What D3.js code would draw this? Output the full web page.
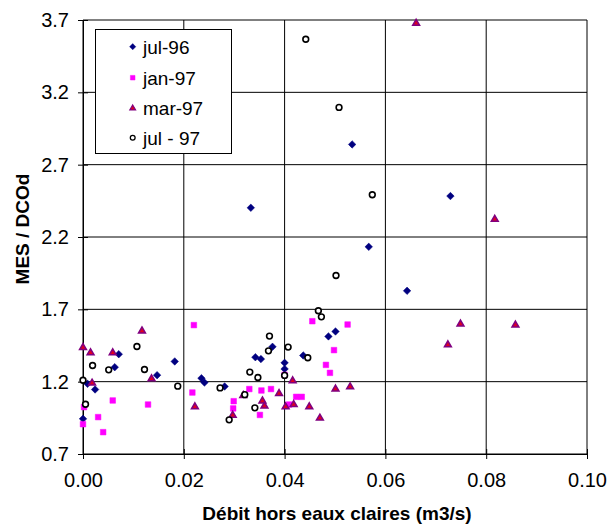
<!DOCTYPE html>
<html>
<head>
<meta charset="utf-8">
<script src="https://cdn.jsdelivr.net/npm/d3@7"></script>
<style>
  html, body { margin: 0; padding: 0; background: #fff; }
  svg { display: block; }
  text { font-family: "Liberation Sans", Arial, sans-serif; }
</style>
</head>
<body>
<svg id="chart" width="613" height="524"></svg>
<script>
// ---- data ----
const seriesNames = ["jul-96", "jan-97", "mar-97", "jul - 97"];

const jul96X = [0.0000, 0.0009, 0.0024, 0.0063, 0.0071, 0.0147, 0.0182, 0.0235, 0.0241, 0.0281, 0.0333, 0.0342, 0.0353, 0.0376, 0.0400, 0.0400, 0.0437, 0.0487, 0.0501, 0.0534, 0.0567, 0.0643, 0.0729];
const jul96Y = [0.943, 1.185, 1.146, 1.300, 1.390, 1.245, 1.340, 1.224, 1.194, 1.167, 2.402, 1.369, 1.356, 1.441, 1.330, 1.288, 1.381, 1.513, 1.547, 2.840, 2.132, 1.828, 2.483];

const jan97X = [0.0000, 0.0002, 0.0030, 0.0040, 0.0059, 0.0129, 0.0217, 0.0220, 0.0299, 0.0298, 0.0330, 0.0351, 0.0354, 0.0373, 0.0400, 0.0409, 0.0423, 0.0434, 0.0455, 0.0482, 0.0490, 0.0498, 0.0525];
const jan97Y = [0.906, 1.024, 0.955, 0.851, 1.070, 1.042, 1.125, 1.591, 1.065, 1.015, 1.149, 0.970, 1.139, 1.149, 1.247, 1.042, 1.095, 1.095, 1.618, 1.316, 1.261, 1.418, 1.595];

const mar97X = [0.0000, 0.0015, 0.0018, 0.0059, 0.0117, 0.0136, 0.0222, 0.0297, 0.0318, 0.0356, 0.0360, 0.0389, 0.0402, 0.0416, 0.0418, 0.0449, 0.0470, 0.0501, 0.0530, 0.0661, 0.0724, 0.0749, 0.0817, 0.0858];
const mar97Y = [1.436, 1.400, 1.190, 1.400, 1.551, 1.220, 1.026, 0.968, 1.105, 1.067, 1.031, 1.118, 1.026, 1.206, 1.042, 1.026, 0.948, 1.149, 1.164, 3.677, 1.455, 1.598, 2.322, 1.591];

const jul97X = [0.0000, 0.0005, 0.0019, 0.0051, 0.0107, 0.0122, 0.0188, 0.0272, 0.0290, 0.0321, 0.0331, 0.0341, 0.0347, 0.0368, 0.0370, 0.0400, 0.0407, 0.0442, 0.0446, 0.0467, 0.0473, 0.0502, 0.0508, 0.0574];
const jul97Y = [1.210, 1.044, 1.312, 1.282, 1.443, 1.284, 1.169, 1.157, 0.936, 1.110, 1.266, 1.019, 1.229, 1.413, 1.515, 1.243, 1.439, 3.567, 1.365, 1.690, 1.648, 1.934, 3.096, 2.492];

const xTicks = [0.00, 0.02, 0.04, 0.06, 0.08, 0.10];
const yTicks = [0.7, 1.2, 1.7, 2.2, 2.7, 3.2, 3.7];
const xTitle = "Débit hors eaux claires (m3/s)";
const yTitle = "MES / DCOd";

// ---- layout ----
const svg = d3.select("#chart");
const L = 83, R = 587, T = 20, B = 454;

const x = d3.scaleLinear().domain([0, 0.10]).range([L, R]);
const y = d3.scaleLinear().domain([0.7, 3.7]).range([B, T]);

// gridlines
svg.append("g").selectAll("line").data(yTicks).join("line")
  .attr("x1", L).attr("x2", R)
  .attr("y1", d => y(d)).attr("y2", d => y(d))
  .attr("stroke", "#000").attr("stroke-width", 1);
svg.append("g").selectAll("line").data(xTicks).join("line")
  .attr("x1", d => x(d)).attr("x2", d => x(d))
  .attr("y1", T).attr("y2", B)
  .attr("stroke", "#000").attr("stroke-width", 1);

// axes
const xAxis = d3.axisBottom(x).tickValues(xTicks).tickFormat(d3.format(".2f")).tickSizeInner(5).tickSizeOuter(0).tickPadding(14);
const gx = svg.append("g").attr("transform", `translate(0,${B})`).call(xAxis);
gx.selectAll(".tick line").attr("y1", -5).attr("y2", 5).attr("stroke", "#000");
gx.select(".domain").attr("stroke", "#000");
gx.selectAll("text").attr("font-size", 20).attr("fill", "#000")
  .attr("font-family", "'Liberation Sans', Arial, sans-serif").attr("dy", "0.71em");

const yAxis = d3.axisLeft(y).tickValues(yTicks).tickFormat(d3.format(".1f")).tickSizeInner(5).tickSizeOuter(0).tickPadding(9);
const gy = svg.append("g").attr("transform", `translate(${L},0)`).call(yAxis);
gy.selectAll(".tick line").attr("x1", -5).attr("x2", 5).attr("stroke", "#000");
gy.select(".domain").attr("stroke", "#000");
gy.selectAll("text").attr("font-size", 20).attr("fill", "#000")
  .attr("font-family", "'Liberation Sans', Arial, sans-serif");

// titles
svg.append("text").attr("x", 337).attr("y", 520).attr("text-anchor", "middle")
  .attr("font-size", 19).attr("font-weight", "bold").text(xTitle);
svg.append("text").attr("transform", "translate(29,229) rotate(-90)").attr("text-anchor", "middle")
  .attr("font-size", 19).attr("font-weight", "bold").text(yTitle);

// markers
const styles = [
  { sym: d3.symbolDiamond2, size: 36, fill: "#000080", stroke: "#000080", sw: 0.5 },
  { sym: d3.symbolSquare2,  size: 40, fill: "#FF00FF", stroke: "#FF00FF", sw: 0.5 },
  { sym: d3.symbolTriangle2, size: 34, fill: "#E00020", stroke: "#800080", sw: 1.5 },
  { sym: d3.symbolCircle,   size: 26, fill: "#FFFFFF", stroke: "#000000", sw: 1.6 }
];

const seriesData = [
  d3.zip(jul96X, jul96Y),
  d3.zip(jan97X, jan97Y),
  d3.zip(mar97X, mar97Y),
  d3.zip(jul97X, jul97Y)
];

seriesData.forEach((pts, i) => {
  const s = styles[i];
  svg.append("g").selectAll("path").data(pts).join("path")
    .attr("transform", d => `translate(${x(d[0])},${y(d[1])})`)
    .attr("d", d3.symbol().type(s.sym).size(s.size))
    .attr("fill", s.fill).attr("stroke", s.stroke).attr("stroke-width", s.sw);
});

// legend
const lg = svg.append("g");
lg.append("rect").attr("x", 95.5).attr("y", 29.5).attr("width", 136).attr("height", 124)
  .attr("fill", "#fff").attr("stroke", "#000").attr("stroke-width", 1);
const legendY = [46.7, 77.7, 108.3, 137.7];
seriesNames.forEach((name, i) => {
  const s = styles[i];
  lg.append("path").attr("transform", `translate(132.7,${legendY[i]})`)
    .attr("d", d3.symbol().type(s.sym).size(s.size * 0.7))
    .attr("fill", s.fill).attr("stroke", s.stroke).attr("stroke-width", s.sw * 0.8);
  lg.append("text").attr("x", 143).attr("y", legendY[i]).attr("dy", "0.36em")
    .attr("font-size", 19).attr("fill", "#000").text(name);
});
</script>
</body>
</html>
